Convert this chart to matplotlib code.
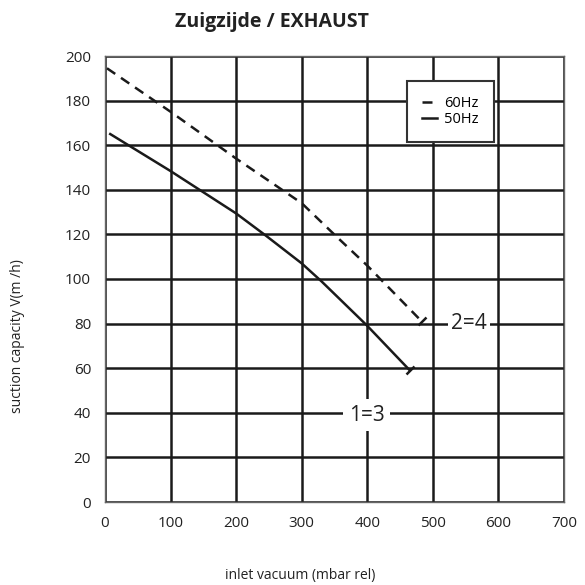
import numpy as np
import matplotlib
matplotlib.use('Agg')
import matplotlib.pyplot as plt
from matplotlib.markers import MarkerStyle
from matplotlib.transforms import Affine2D

plt.rcParams['font.family'] = ['Open Sans', 'DejaVu Sans']

#---------data------------------------------
vac_50 = [8, 100, 200, 246, 300, 330, 400, 465]
cap_50 = [165, 148.4, 129.4, 119.3, 107, 99, 79, 59]

vac_60 = [3, 100, 200, 300, 352, 400, 483]
cap_60 = [194.5, 175, 154, 134, 119.3, 106, 81]

x_ticks = [0, 100, 200, 300, 400, 500, 600, 700]
y_ticks = [0, 20, 40, 60, 80, 100, 120, 140, 160, 180, 200]

#---------figure-----------
fig = plt.figure(figsize=(5.85, 5.85), dpi=100)
ax = fig.add_axes([105/585, 1-502/585, 459/585, 446/585])

ax.set_xlim(0, 700)
ax.set_ylim(0, 200)
ax.set_xticks(x_ticks)
ax.set_yticks(y_ticks)
ax.tick_params(length=0, labelsize=11, colors='#222222')
ax.tick_params(axis='x', pad=10)
ax.tick_params(axis='y', pad=10)
ax.grid(True, color='#1a1a1a', linewidth=1.8)
for s in ax.spines.values():
    s.set_color('#666666')
    s.set_linewidth(1.0)

#curves
ax.plot(vac_60, cap_60, color='#1a1a1a', lw=1.8, linestyle=(0, (4, 2.8)), label='60Hz')
ax.plot(vac_50, cap_50, color='#1a1a1a', lw=1.8, label='50Hz')

#end ticks perpendicular to the curve
tick = MarkerStyle('|', transform=Affine2D().rotate_deg(-46))
ax.plot(vac_50[-1], cap_50[-1], marker=tick, markersize=9, mew=1.8, color='#1a1a1a')
ax.plot(vac_60[-1], cap_60[-1], marker=tick, markersize=9, mew=1.8, color='#1a1a1a')

#curve labels
ax.text(555, 80, '2=4', fontsize=15, ha='center', va='center', color='#222222',
        bbox=dict(facecolor='white', edgecolor='none', pad=2))
ax.text(399, 39, '1=3', fontsize=15, ha='center', va='center', color='#222222',
        bbox=dict(facecolor='white', edgecolor='none', pad=4))

#legend
leg = ax.legend(loc='upper left', bbox_to_anchor=(0.658, 0.944), fontsize=10.5,
                handlelength=1.0, handletextpad=0.5, frameon=True, fancybox=False,
                borderpad=1.05, labelspacing=0.05, borderaxespad=0)
leg.get_frame().set_edgecolor('#333333')
leg.get_frame().set_linewidth(1.5)
leg.get_frame().set_alpha(1)

#texts
fig.text(272/585, 1-22/585, 'Zuigzijde / EXHAUST', fontsize=14, fontweight='bold',
         ha='center', va='center', color='#222222')
fig.text(18/585, 1-336/585, 'suction capacity V(m /h)', fontsize=10, rotation=90,
         ha='center', va='center', color='#222222')
fig.text(300/585, 1-575/585, 'inlet vacuum (mbar rel)', fontsize=10,
         ha='center', va='center', color='#222222')

fig.savefig('out.png', dpi=100)
